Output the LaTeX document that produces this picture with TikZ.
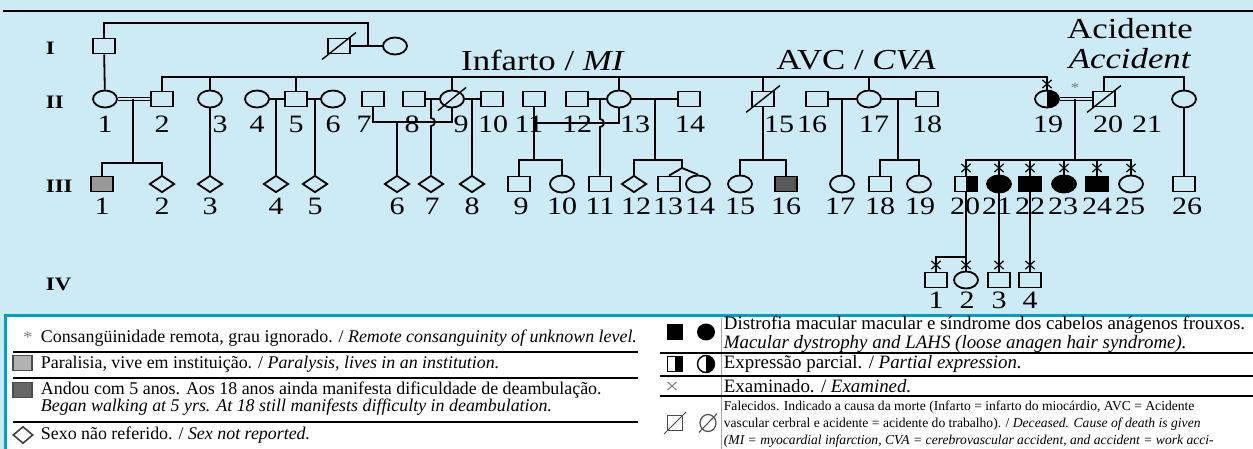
\documentclass[tikz,border=0pt]{standalone}
\usepackage{fontspec}
\setmainfont[FakeStretch=1.2]{Liberation Serif}
\newfontfamily\legserif{Liberation Serif}
\usepackage{tikz}
\usetikzlibrary{shapes}
\usetikzlibrary{positioning}
\usetikzlibrary{calc}
\definecolor{pedbg}{RGB}{205,235,245}
\definecolor{legframe}{RGB}{0,160,200}

\begin{document}
\begin{tikzpicture}[x=0.5pt, y=-0.5pt, line width=0.9pt,
    male/.style={draw, rectangle, minimum width=11pt, minimum height=7.5pt, inner sep=0pt},
    female/.style={draw, ellipse, minimum width=12pt, minimum height=8.5pt, inner sep=0pt},
    unknown/.style={draw, diamond, minimum width=12.5pt, minimum height=8.5pt, inner sep=0pt},
    half/.style={path picture={\fill[black] (path picture bounding box.north) rectangle (path picture bounding box.south east);}},
    couple/.style={double=pedbg, double distance=1pt, line width=0.7pt},
    exam/.style={draw, cross out, minimum width=4pt, minimum height=3.5pt, inner sep=0pt, line width=0.6pt},
    num/.style={font=\fontsize{12.5}{14}\selectfont, inner sep=0pt},
    gen/.style={font=\fontsize{9.5}{11}\selectfont\bfseries, anchor=west, inner sep=0pt},
    note/.style={font=\fontsize{14.5}{16}\selectfont, inner sep=0pt},
    legl/.style={font=\legserif\fontsize{8.95}{8.6}\selectfont, anchor=west, inner sep=0pt},
    legr/.style={font=\legserif\fontsize{9.45}{8.4}\selectfont, anchor=west, inner sep=0pt},
    legsmall/.style={font=\legserif\fontsize{6.8}{8.4}\selectfont, anchor=north west, inner sep=0pt, align=left},
    rule/.style={line width=0.6pt}]

  \fill[pedbg] (0,0) rectangle (1253,449);
  \useasboundingbox (0,0) rectangle (1253,449);
  \draw[line width=1.3pt] (3,11) -- (1253,11);

  \node[gen] (gen_i)   at (45,48)  {I};
  \node[gen] (gen_ii)  at (45,102) {II};
  \node[gen] (gen_iii) at (45,186) {III};
  \node[gen] (gen_iv)  at (45,284) {IV};

  \node[note] (infarto)  at (543,60)  {Infarto / \textit{MI}};
  \node[note] (avc)      at (856,60)  {AVC / \textit{CVA}};
  \node[note] (acid_pt)  at (1130,29) {Acidente};
  \node[note] (acid_en)  at (1130,59) {\textit{Accident}};

  \node[male]   (i_1) at (104,46) {};
  \node[male]   (i_2) at (339,46) {};
  \node[female] (i_3) at (395,46) {};

  \node[female]       (ii_1)  at (105,99)  {};
  \node[male]         (ii_2)  at (162,99)  {};
  \node[female]       (ii_3)  at (210,99)  {};
  \node[female]       (ii_4)  at (257,99)  {};
  \node[male]         (ii_5)  at (296,99)  {};
  \node[female]       (ii_6)  at (333,99)  {};
  \node[male]         (ii_7)  at (373,99)  {};
  \node[male]         (ii_8)  at (414,99)  {};
  \node[female]       (ii_9)  at (452,99)  {};
  \node[male]         (ii_10) at (492,99)  {};
  \node[male]         (ii_11) at (534,99)  {};
  \node[male]         (ii_12) at (577,99)  {};
  \node[female]       (ii_13) at (619,99)  {};
  \node[male]         (ii_14) at (689,99)  {};
  \node[male]         (ii_15) at (763,99)  {};
  \node[male]         (ii_16) at (817,99)  {};
  \node[female]       (ii_17) at (869,99)  {};
  \node[male]         (ii_18) at (927,99)  {};
  \node[female, half] (ii_19) at (1047,99) {};
  \node[male]         (ii_20) at (1104,99) {};
  \node[female]       (ii_21) at (1184,99) {};

  \node[male, fill=black!40]  (iii_1)  at (102,184)  {};
  \node[unknown]              (iii_2)  at (162,184)  {};
  \node[unknown]              (iii_3)  at (210,184)  {};
  \node[unknown]              (iii_4)  at (276,184)  {};
  \node[unknown]              (iii_5)  at (315,184)  {};
  \node[unknown]              (iii_6)  at (397,184)  {};
  \node[unknown]              (iii_7)  at (431,184)  {};
  \node[unknown]              (iii_8)  at (472,184)  {};
  \node[male]                 (iii_9)  at (519,184)  {};
  \node[female]               (iii_10) at (562,184)  {};
  \node[male]                 (iii_11) at (600,184)  {};
  \node[unknown]              (iii_12) at (634,184)  {};
  \node[male]                 (iii_13) at (669,184)  {};
  \node[female]               (iii_14) at (698,184)  {};
  \node[female]               (iii_15) at (740,184)  {};
  \node[male, fill=black!65]  (iii_16) at (786,184)  {};
  \node[female]               (iii_17) at (842,184)  {};
  \node[male]                 (iii_18) at (880,184)  {};
  \node[female]               (iii_19) at (919,184)  {};
  \node[male, half]           (iii_20) at (966,184)  {};
  \node[female, fill=black]   (iii_21) at (999,184)  {};
  \node[male, fill=black]     (iii_22) at (1030,184) {};
  \node[female, fill=black]   (iii_23) at (1064,184) {};
  \node[male, fill=black]     (iii_24) at (1097,184) {};
  \node[female]               (iii_25) at (1131,184) {};
  \node[male]                 (iii_26) at (1184,184) {};

  \node[male]   (iv_1) at (936,280)  {};
  \node[female] (iv_2) at (966,280)  {};
  \node[male]   (iv_3) at (999,280)  {};
  \node[male]   (iv_4) at (1030,280) {};

  \foreach \x/\k in {105/1,162/2,220/3,257/4,296/5,333/6,364/7,412/8,461/9,493/10,529/11,577/12,635/13,690/14,779/15,812/16,874/17,927/18,1048/19,1108/20,1147/21}
    \node[num] (l_ii_\k) at (\x,124) {\k};
  \foreach \x/\k in {102/1,162/2,210/3,276/4,315/5,397/6,432/7,472/8,521/9,562/10,600/11,636/12,668/13,700/14,740/15,786/16,840/17,880/18,920/19,965/20,997/21,1030/22,1063/23,1097/24,1130/25,1187/26}
    \node[num] (l_iii_\k) at (\x,206) {\k};
  \foreach \x/\k in {936/1,967/2,999/3,1030/4}
    \node[num] (l_iv_\k) at (\x,300) {\k};

  \foreach \d in {i_2,ii_9,ii_15,ii_20}
    \draw[line width=0.7pt] ([shift={(-2.5pt,-2.5pt)}]\d.south west) -- ([shift={(2.5pt,2.5pt)}]\d.north east);

  \coordinate (m_i)  at (368,46);
  \coordinate (t_i)  at (368,23);
  \coordinate (s_ii) at (0,77);
  \coordinate (s_iii) at (0,160);
  \draw (i_2) -- (i_3);
  \draw (i_1.north) |- (t_i) -- (m_i);
  \draw (i_1) -- (ii_1);

  \draw (ii_2.north) |- (ii_19 |- s_ii) -- (ii_19.north);
  \foreach \k in {3,5,9,13,15,17}
    \draw (ii_\k.north) -- (ii_\k |- s_ii);
  \draw (ii_20.north) |- (ii_21 |- s_ii) -- (ii_21.north);

  \coordinate (m_1_2) at (133,99);
  \coordinate (s_1_2) at (133,163);
  \draw[couple] (ii_1) -- (ii_2);
  \draw (m_1_2) -- (s_1_2);
  \draw (iii_1.north) |- (s_1_2) -| (iii_2.north);

  \draw (ii_3) -- (iii_3);

  \coordinate (m_4_5) at (276,99);
  \coordinate (m_5_6) at (315,99);
  \draw (ii_4) -- (ii_5) -- (ii_6);
  \draw (m_4_5) -- (iii_4);
  \draw (m_5_6) -- (iii_5);

  \coordinate (m_7_9) at (397,122);
  \draw (ii_7.south) |- (ii_9 |- m_7_9) -- (ii_9.south);
  \draw (m_7_9) -- (iii_6);

  \coordinate (m_8_9) at (431,99);
  \coordinate (h_8_9) at (431,118);
  \draw (ii_8) -- (ii_9);
  \draw (m_8_9) -- (h_8_9) arc[start angle=90, end angle=-90, radius=2pt] -- (iii_7.north);

  \coordinate (m_9_10) at (472,99);
  \draw (ii_9) -- (ii_10);
  \draw (m_9_10) -- (iii_8);

  \coordinate (m_11_13) at (534,123);
  \draw (ii_11.south) -- (ii_11 |- s_iii);
  \draw (m_11_13) -| (ii_13.south);
  \draw (iii_9.north) |- (ii_11 |- s_iii) -| (iii_10.north);

  \coordinate (m_12_13) at (600,99);
  \coordinate (h_12_13) at (600,119);
  \draw (ii_12) -- (ii_13);
  \draw (m_12_13) -- (h_12_13) arc[start angle=90, end angle=-90, radius=2pt] -- (iii_11.north);

  \coordinate (m_13_14) at (655,99);
  \coordinate (tw_13_14) at (682,168);
  \draw (ii_13) -- (ii_14);
  \draw (m_13_14) -- (m_13_14 |- s_iii);
  \draw (iii_12.north) |- (tw_13_14 |- s_iii) -- (tw_13_14);
  \draw (iii_13.north) -- (tw_13_14) -- (iii_14.north);

  \draw (ii_15) -- (ii_15 |- s_iii);
  \draw (iii_15.north) |- (ii_15 |- s_iii) -| (iii_16.north);

  \coordinate (m_16_17) at (842,99);
  \draw (ii_16) -- (ii_17);
  \draw (m_16_17) -- (iii_17);

  \coordinate (m_17_18) at (898,99);
  \draw (ii_17) -- (ii_18);
  \draw (m_17_18) -- (m_17_18 |- s_iii);
  \draw (iii_18.north) |- (m_17_18 |- s_iii) -| (iii_19.north);

  \coordinate (m_19_20) at (1075,99);
  \draw[couple] (ii_19) -- (ii_20);
  \draw (m_19_20) -- (m_19_20 |- s_iii);
  \draw (iii_20.north) |- (m_19_20 |- s_iii) -| (iii_25.north);
  \foreach \k in {21,...,24}
    \draw (iii_\k.north) -- (iii_\k |- s_iii);
  \node[font=\fontsize{7}{8}\selectfont, text=black!55, inner sep=0pt] (consang) at (1075,88) {*};

  \draw (ii_21) -- (iii_26);

  \coordinate (b_iv) at (966,257);
  \draw (iii_20.south) -- (iv_2.north);
  \draw (b_iv) -| (iv_1.north);
  \draw (iii_21) -- (iv_3);
  \draw (iii_22) -- (iv_4);

  \foreach \x/\y in {1047/84,966/168,999/168,1030/168,1064/168,1097/168,1131/168,936/265,966/265,999/265,1030/265}
    \node[exam] (x_\x_\y) at (\x,\y) {};

  \fill[white] (5,316) rectangle (1253,449);
  \draw[legframe, line width=1.5pt] (5,449) |- (1253,315.5);
  \draw[black!35, line width=0.3pt] (721,318) -- (721,449);

  \node[font=\fontsize{8}{9}\selectfont, text=black!50, inner sep=0pt] (leg_ast) at (28,337) {*};
  \node[legl] (leg_t1) at (40,338) {Consangüinidade remota, grau ignorado. / \textit{Remote consanguinity of unknown level.}};
  \draw[rule] (13,352) -- (638,352);
  \node[draw=black!70, fill=black!30, line width=0.7pt, minimum width=9.5pt, minimum height=7.5pt, inner sep=0pt] (leg_par) at (22.5,363) {};
  \node[legl] (leg_t2) at (40,364) {Paralisia, vive em instituição. / \textit{Paralysis, lives in an institution.}};
  \draw[rule] (13,378) -- (638,378);
  \node[draw=black!70, fill=black!60, line width=0.7pt, minimum width=9.5pt, minimum height=7.5pt, inner sep=0pt] (leg_walk) at (22.5,390) {};
  \node[legl, align=left] (leg_t3) at (40,399) {Andou com 5 anos. Aos 18 anos ainda manifesta dificuldade de deambulação.\\\textit{Began walking at 5 yrs. At 18 still manifests difficulty in deambulation.}};
  \draw[rule] (13,422) -- (638,422);
  \node[draw=black!75, diamond, line width=0.8pt, minimum width=10pt, minimum height=8.5pt, inner sep=0pt] (leg_sex) at (23,435) {};
  \node[legl] (leg_t4) at (40,435) {Sexo não referido. / \textit{Sex not reported.}};

  \node[fill=black, minimum width=8pt, minimum height=8pt, inner sep=0pt] (leg_aff_m) at (675,332) {};
  \node[fill=black, ellipse, minimum width=9pt, minimum height=8.5pt, inner sep=0pt] (leg_aff_f) at (706,332) {};
  \node[legr, align=left] (leg_t5) at (723,334) {Distrofia macular macular e síndrome dos cabelos anágenos frouxos.\\\textit{Macular dystrophy and LAHS (loose anagen hair syndrome).}};
  \draw[rule] (660,353) -- (1253,353);
  \node[draw, half, line width=0.7pt, minimum width=7.5pt, minimum height=7.5pt, inner sep=0pt] (leg_half_m) at (675,364) {};
  \node[draw, ellipse, half, line width=0.7pt, minimum width=8.5pt, minimum height=8.5pt, inner sep=0pt] (leg_half_f) at (706,364) {};
  \node[legr] (leg_t6) at (723,364) {Expressão parcial. / \textit{Partial expression.}};
  \draw[rule] (660,376) -- (1253,376);
  \node[exam, draw=black!50, line width=0.5pt] (leg_exam) at (672,386) {};
  \node[legr] (leg_t7) at (723,386) {Examinado. / \textit{Examined.}};
  \draw[rule] (660,396) -- (1253,396);
  \node[draw=black!70, line width=0.6pt, minimum width=7.5pt, minimum height=7.5pt, inner sep=0pt] (leg_dead_m) at (675,423) {};
  \node[draw=black!70, ellipse, line width=0.6pt, minimum width=8pt, minimum height=8.5pt, inner sep=0pt] (leg_dead_f) at (708,423) {};
  \foreach \d in {leg_dead_m,leg_dead_f}
    \draw[black!70, line width=0.5pt] ([shift={(-1.5pt,-1.5pt)}]\d.south west) -- ([shift={(1.5pt,1.5pt)}]\d.north east);
  \node[legsmall] (leg_t8) at (723,400) {Falecidos. Indicado a causa da morte (Infarto = infarto do miocárdio, AVC = Acidente\\vascular cerbral e acidente = acidente do trabalho). / \textit{Deceased. Cause of death is given}\\\textit{(MI = myocardial infarction, CVA = cerebrovascular accident, and accident = work acci-}};
\end{tikzpicture}
\end{document}
